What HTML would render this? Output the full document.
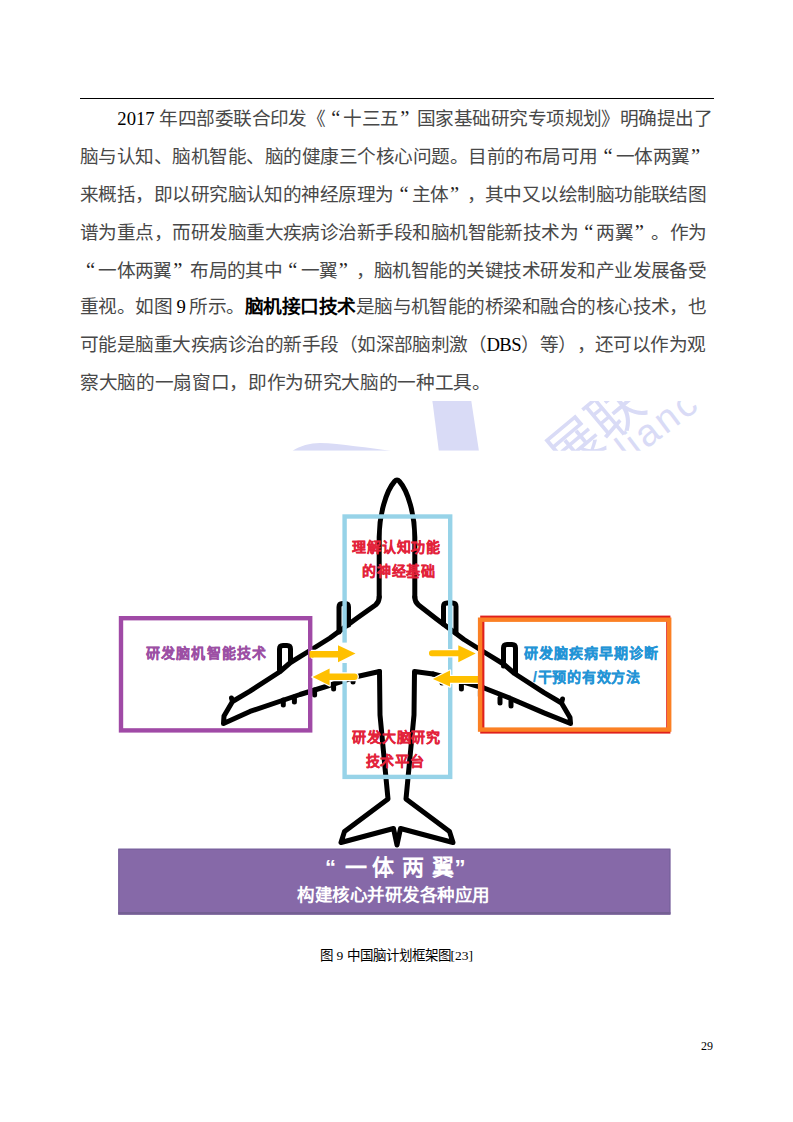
<!DOCTYPE html>
<html lang="zh-CN">
<head>
<meta charset="utf-8">
<style>
html,body{margin:0;padding:0;background:#fff;}
body{width:793px;height:1122px;position:relative;overflow:hidden;font-family:"Liberation Serif",serif;color:#000;}
.rule{position:absolute;left:79.5px;top:97.6px;width:634.5px;height:1.3px;background:#000;}
.ln{position:absolute;white-space:nowrap;color:#484848;font-size:18.67px;line-height:24px;text-spacing-trim:space-all;}
.ln b{font-weight:bold;color:#000;}
.ln i{font-style:normal;color:#000;}
.q1{color:#222;font-size:20.5px;margin-left:5.9px;margin-right:3.67px;}
.q2{color:#222;font-size:20.5px;margin-left:1.4px;margin-right:8.17px;}
.fig{position:absolute;left:0;top:0;}
.cap{position:absolute;left:0;width:793px;text-align:center;top:947px;font-size:13.5px;line-height:18px;white-space:nowrap;}
.lt{font-family:"Liberation Serif",serif;}
.pn{position:absolute;left:701px;top:1039px;font-size:12px;line-height:14px;}
.ft{position:absolute;-webkit-text-stroke:0.25px currentColor;font-family:"Liberation Sans",sans-serif;font-weight:bold;font-size:14px;letter-spacing:0.75px;line-height:24px;white-space:nowrap;text-align:center;}
.red{color:#e3223a;}
.pur{color:#9c4fa4;text-align:left;}
.blu{color:#2394d6;}
.bn1{position:absolute;left:0;top:854px;color:#fff;font-family:"Liberation Sans",sans-serif;font-weight:bold;font-size:22px;line-height:28px;white-space:nowrap;}
.bn1 span{position:absolute;top:0;}
.bn2{position:absolute;left:297px;top:884px;color:#fff;font-family:"Liberation Sans",sans-serif;font-weight:bold;font-size:17.5px;line-height:22px;letter-spacing:0.5px;white-space:nowrap;}
</style>
</head>
<body>
<div class="rule"></div>
<div class="ln" style="left:117.33px;top:106.30px;letter-spacing:-0.5500px"><i style="letter-spacing:0">2017 </i>年四部委联合印发《<span class="q1">“</span>十三五<span class="q2">”</span>国家基础研究专项规划》明确提出了</div>
<div class="ln" style="left:80.00px;top:144.13px;letter-spacing:-0.5151px">脑与认知、脑机智能、脑的健康三个核心问题。目前的布局可用<span class="q1">“</span>一体两翼<span class="q2">”</span></div>
<div class="ln" style="left:80.00px;top:181.96px;letter-spacing:-0.5576px">来概括，即以研究脑认知的神经原理为<span class="q1">“</span>主体<span class="q2">”</span>，其中又以绘制脑功能联结图</div>
<div class="ln" style="left:80.00px;top:219.79px;letter-spacing:-0.5454px">谱为重点，而研发脑重大疾病诊治新手段和脑机智能新技术为<span class="q1">“</span>两翼<span class="q2">”</span>。作为</div>
<div class="ln" style="left:80.00px;top:257.62px;letter-spacing:-0.5372px"><span class="q1">“</span>一体两翼<span class="q2">”</span>布局的其中<span class="q1">“</span>一翼<span class="q2">”</span>，脑机智能的关键技术研发和产业发展备受</div>
<div class="ln" style="left:80.00px;top:295.45px;letter-spacing:-0.5361px">重视。如图 <i>9</i> 所示。<b>脑机接口技术</b>是脑与机智能的桥梁和融合的核心技术，也</div>
<div class="ln" style="left:80.00px;top:333.28px;letter-spacing:-0.5290px">可能是脑重大疾病诊治的新手段（如深部脑刺激（<i>DBS</i>）等），还可以作为观</div>
<div class="ln" style="left:80.00px;top:371.11px;letter-spacing:-0.3300px">察大脑的一扇窗口，即作为研究大脑的一种工具。</div>
<svg class="fig" width="793" height="1122" viewBox="0 0 793 1122">
<!-- watermark -->
<defs><clipPath id="wc"><rect x="280" y="401" width="440" height="49.7"/></clipPath></defs>
<g fill="#d9dbf6" clip-path="url(#wc)">
<path d="M292.6 450.7 C300 446 310 443.2 320 443.1 C340 443.5 370 448.5 391 450.7 Z"/>
<path d="M432.4 401 L471.3 401 L478.9 450.7 L438.8 450.7 Z"/>
<text x="0" y="0" transform="translate(566 478) rotate(-40)" font-family="Liberation Sans, sans-serif" font-size="54">展联</text>
<text x="0" y="0" transform="translate(628 463) rotate(-37)" font-family="Liberation Sans, sans-serif" font-size="38" letter-spacing="3">lianc</text>
</g>
<!-- plane -->
<g fill="none" stroke="#000" stroke-width="5" stroke-linejoin="round" stroke-linecap="round">
<path d="M379.2 597 L379.2 537 C379.2 515 386 491 394.5 481.5 Q397 478.7 399.5 481.5 C408 491 414.8 515 414.8 537 L414.8 597"/>
<path d="M379.2 597 Q379.2 602 375.5 605 L357.5 617.8 L330 638 L310 650.5 L290.5 662.5 L279.5 672 L250 691.2 L232.5 701.5 L231.5 698 M232.5 701.5 L224 716 L223.5 723.5 L250 711.4 L300 694.5 L326 686.5 L355 677 L379.5 671.5"/>
<path d="M379.5 671.5 L380 715 L388 799 L344.5 831.5 L341 842.5 L393.5 828.5 L397 845 L400.5 828.5 L453 842.5 L449.5 831.5 L406 799 L414 715 L414.5 671.5 L433 674"/>
<path d="M414.8 597 Q414.8 602 418.5 605 L436.5 619 L464 639.5 L484 652 L503.5 664 L514.5 673.5 L544 692.7 L561.5 703 L562.5 699 M561.5 703 L570 717.5 L570.5 723.5 L544 712.9 L510 698.2 L484 688 L460 681 L433 674"/>
<!-- nacelles -->
<path d="M339 632 L339 607 Q339 603.5 342.5 603.5 L345 603.5 Q348.5 603.5 348.5 607 L348.5 625"/>
<path d="M279.5 670 L279.5 649 Q279.5 645.5 283 645.5 L287 645.5 Q290.5 645.5 290.5 649 L290.5 661"/>
<path d="M456 633 L456 606.5 Q456 603 452.5 603 L447 603 Q443.5 603 443.5 606.5 L443.5 624"/>
<path d="M515.5 673 L515.5 648 Q515.5 644.5 512 644.5 L507 644.5 Q503.5 644.5 503.5 648 L503.5 666"/>
</g>
<!-- flap stubs -->
<g stroke="#000" stroke-width="5" stroke-linecap="round">
<path d="M283.3 700 L283.3 705"/><path d="M294.4 697 L294.4 702"/><path d="M314.6 690 L314.6 695"/><path d="M333.6 684 L333.6 689"/><path d="M353 677 L353 682"/>
<path d="M511 701 L511 706"/><path d="M500 698 L500 703"/><path d="M480.4 691 L480.4 696"/><path d="M461.4 684 L461.4 689"/><path d="M442 678 L442 683"/>
</g>
<!-- blue box -->
<rect x="344.6" y="516.5" width="105.6" height="260.4" fill="none" stroke="#97d3e8" stroke-width="4.4"/>
<!-- purple box -->
<rect x="121" y="618.2" width="189.2" height="112.2" fill="none" stroke="#a04aa6" stroke-width="4.4"/>
<!-- arrows -->
<rect x="341.5" y="642.6" width="7" height="20.4" fill="#fff"/>
<g fill="#ffc000" stroke="#fff" stroke-width="2.5" paint-order="stroke" stroke-linejoin="round">
<path d="M312 651 L338 651 L338 645.3 L355.5 653.5 L338 662.2 L338 657.6 L312 657.6 Z"/>
<path d="M312.6 677 L329.6 668.5 L329.6 673.5 L354.5 673.5 A3.2 3.2 0 0 1 354.5 679.9 L329.6 679.9 L329.6 685.5 Z"/>
<path d="M432 650.2 L458.3 650.2 L458.3 645.3 L475.7 653.5 L458.3 662.3 L458.3 656.3 L432 656.3 A3.05 3.05 0 0 1 432 650.2 Z"/>
<path d="M432.9 679 L450 670.6 L450 675.9 L478 675.9 L478 682.7 L450 682.7 L450 686.5 Z"/>
</g>
<rect x="309.5" y="651" width="4" height="6.6" fill="#ffc000"/>
<!-- red/orange box -->
<rect x="482.3" y="617.7" width="186" height="113.8" fill="none" stroke="#e0201c" stroke-width="4.2"/>
<rect x="480.1" y="619.7" width="189.1" height="109.9" fill="none" stroke="#fb8024" stroke-width="4.4"/>
<!-- banner -->
<rect x="118.3" y="848.7" width="552.1" height="65.8" fill="#8669a8"/>
<rect x="118.8" y="849.2" width="551.1" height="64.8" fill="none" stroke="#76609a" stroke-width="1"/>
<rect x="118.3" y="912" width="552.1" height="2.5" fill="#745f93"/>
</svg>
<div class="ft red" style="left:339px;top:535px;width:115px">理解认知功能</div>
<div class="ft red" style="left:341.5px;top:559px;width:115px">的神经基础</div>
<div class="ft red" style="left:339px;top:725px;width:115px">研发大脑研究</div>
<div class="ft red" style="left:337.7px;top:749px;width:115px">技术平台</div>
<div class="ft pur" style="left:146px;top:641px;letter-spacing:1.15px">研发脑机智能技术</div>
<div class="ft blu" style="left:496.5px;top:641px;width:190px;letter-spacing:1.05px">研发脑疾病早期诊断</div>
<div class="ft blu" style="left:492px;top:665px;width:190px">/干预的有效方法</div>
<div class="bn1"><span style="left:325px">“</span><span style="left:344.5px">一</span><span style="left:372px">体</span><span style="left:401.7px">两</span><span style="left:431.5px">翼</span><span style="left:454.5px">”</span></div>
<div class="bn2">构建核心并研发各种应用</div>

<div class="cap">图 <span class="lt">9</span> 中国脑计划框架图<span class="lt">[23]</span></div>
<div class="pn">29</div>
</body>
</html>
